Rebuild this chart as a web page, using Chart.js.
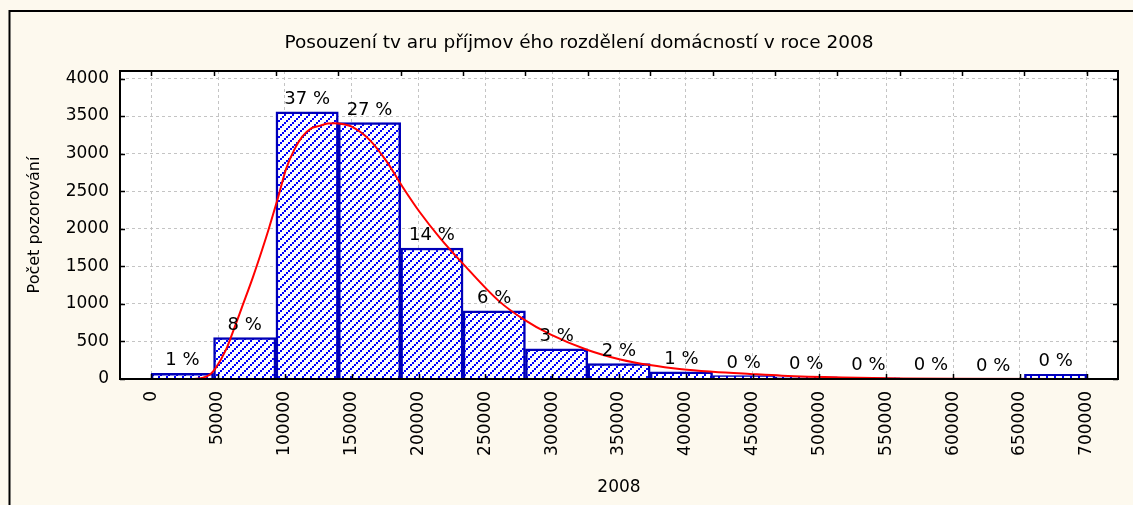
<!DOCTYPE html>
<html>
<head>
<meta charset="utf-8">
<script src="https://cdn.jsdelivr.net/npm/chart.js@4.4.0/dist/chart.umd.min.js"></script>
<style>
html, body { margin: 0; padding: 0; background: #FDF9EE; }
#obal { width: 1133px; height: 505px; position: relative; }
</style>
</head>
<body>
<div id="obal"><canvas id="graf"></canvas></div>
<script>
// histogram - dolni meze trid a cetnosti
const binStarts = [0, 46667, 93333, 140000, 186667, 233333, 280000, 326667, 373333, 420000, 466667, 513333, 560000, 606667, 653333]
const binWidth = 46667
const counts = [76, 550, 3558, 3412, 1744, 909, 403, 204, 97, 45, 28, 15, 8, 3, 62]
const percents = ['1 %', '8 %', '37 %', '27 %', '14 %', '6 %', '3 %', '2 %', '1 %', '0 %', '0 %', '0 %', '0 %', '0 %', '0 %']

// prolozena krivka
const curveX = [32000, 38000, 44000, 48000, 56000, 61000, 68000, 76000, 83000, 88000, 95000, 101000, 107000, 113000, 120000, 126000, 132000, 137000, 144000, 150000, 163000, 176000, 188000, 201000, 216000, 233000, 260000, 279000, 299000, 326000, 351000, 373000, 397000, 420000, 448000, 472000, 517000, 563000, 601000, 700000]
const curveY = [0, 13, 60, 140, 390, 620, 960, 1350, 1720, 2000, 2420, 2800, 3050, 3225, 3340, 3370, 3400, 3405, 3390, 3359, 3190, 2900, 2560, 2220, 1880, 1540, 1040, 790, 590, 390, 260, 185, 130, 97, 67, 44, 20, 7, 3, 0]

const xTicks = [0, 50000, 100000, 150000, 200000, 250000, 300000, 350000, 400000, 450000, 500000, 550000, 600000, 650000, 700000]
const yTicks = [0, 500, 1000, 1500, 2000, 2500, 3000, 3500, 4000]

const nadpis = 'Posouzení tv aru příjmov ého rozdělení domácností v roce 2008'

const pismo = "'DejaVu Sans', Verdana, sans-serif"
Chart.defaults.font.family = pismo
Chart.defaults.color = '#000'

// srafovani sloupcu
let dlazdice = document.createElement('canvas')
dlazdice.width = 8
dlazdice.height = 8
let dc = dlazdice.getContext('2d')
dc.fillStyle = '#fff'
dc.fillRect(0, 0, 8, 8)
dc.fillStyle = '#0000FF'
dc.fillRect(0, 6, 2, 2)
dc.fillRect(2, 4, 2, 2)
dc.fillRect(4, 2, 2, 2)
dc.fillRect(6, 0, 2, 2)
const ctx = document.getElementById('graf').getContext('2d')
const srafa = ctx.createPattern(dlazdice, 'repeat')

let sloupce = binStarts.map((s, i) => ({ x: s + binWidth / 2, y: counts[i] }))
let krivka = curveX.map((x, i) => ({ x: x, y: curveY[i] }))

const ramecek = {
    id: 'ramecek',
    beforeDraw(chart) {
        const c = chart.ctx
        const a = chart.chartArea
        c.save()
        c.fillStyle = '#FDF9EE'
        c.fillRect(0, 0, chart.width, chart.height)
        c.strokeStyle = '#000'
        c.lineWidth = 2
        c.beginPath()
        c.moveTo(9.5, chart.height)
        c.lineTo(9.5, 11)
        c.lineTo(chart.width, 11)
        c.stroke()
        c.fillStyle = '#fff'
        c.fillRect(a.left, a.top, a.right - a.left, a.bottom - a.top)
        c.restore()
    },
    afterDatasetsDraw(chart) {
        const c = chart.ctx
        const meta = chart.getDatasetMeta(0)
        c.save()
        c.fillStyle = '#000'
        c.font = '18px ' + pismo
        c.textAlign = 'center'
        c.textBaseline = 'alphabetic'
        meta.data.forEach((bar, i) => {
            c.fillText(percents[i], bar.x, bar.y - 8)
        })
        c.restore()
    },
    afterDraw(chart) {
        const c = chart.ctx
        const a = chart.chartArea
        const sx = chart.scales.x
        const sy = chart.scales.y
        c.save()
        c.strokeStyle = '#000'
        c.lineWidth = 2
        c.strokeRect(a.left, a.top, a.right - a.left, a.bottom - a.top)
        c.lineWidth = 1.5
        c.beginPath()
        yTicks.forEach(v => {
            let y = Math.round(sy.getPixelForValue(v)) + 0.5
            c.moveTo(a.left, y); c.lineTo(a.left + 5, y)
            c.moveTo(a.right, y); c.lineTo(a.right - 5, y)
        })
        xTicks.forEach(v => {
            let x = Math.round(sx.getPixelForValue(v)) + 0.5
            c.moveTo(x, a.bottom); c.lineTo(x, a.bottom - 5)
        })
        binStarts.concat([binStarts[binStarts.length - 1] + binWidth]).forEach(v => {
            let x = Math.round(sx.getPixelForValue(v)) + 0.5
            c.moveTo(x, a.top); c.lineTo(x, a.top + 5)
        })
        c.stroke()
        c.fillStyle = '#000'
        c.font = '18.5px ' + pismo
        c.textAlign = 'center'
        c.textBaseline = 'middle'
        c.fillText(nadpis, 579, 43)
        c.restore()
    }
}

const graf = new Chart(ctx, {
    type: 'bar',
    data: {
        datasets: [{
            type: 'bar',
            data: sloupce,
            backgroundColor: srafa,
            borderColor: '#0000B8',
            borderWidth: 2.5,
            barPercentage: 1,
            categoryPercentage: 1,
            order: 2
        }, {
            type: 'line',
            data: krivka,
            borderColor: '#FF0000',
            borderWidth: 2,
            pointRadius: 0,
            cubicInterpolationMode: 'monotone',
            fill: false,
            order: 1
        }]
    },
    options: {
        responsive: true,
        maintainAspectRatio: false,
        animation: false,
        devicePixelRatio: 1,
        layout: { padding: { top: 71, right: 15, left: 0, bottom: 0 } },
        plugins: { legend: { display: false }, tooltip: { enabled: false } },
        scales: {
            x: {
                type: 'linear',
                offset: false,
                min: -23333,
                max: 723333,
                afterBuildTicks: s => { s.ticks = xTicks.map(v => ({ value: v })) },
                afterFit: s => { s.height = 126 },
                ticks: { autoSkip: false, minRotation: 90, maxRotation: 90, padding: 12, font: { size: 17 }, callback: v => String(v) },
                grid: { color: '#C4C4C4', lineWidth: 1, drawTicks: false, offset: false },
                border: { display: false, dash: [3, 3] },
                title: { display: true, text: '2008', font: { size: 17 }, padding: { top: 0, bottom: 7 } }
            },
            y: {
                min: 0,
                max: 4100,
                afterBuildTicks: s => { s.ticks = yTicks.map(v => ({ value: v })) },
                afterFit: s => { s.width = 120 },
                ticks: { padding: 11, font: { size: 17 }, callback: v => String(v) },
                grid: { color: '#C4C4C4', lineWidth: 1, drawTicks: false },
                border: { display: false, dash: [3, 3] },
                title: { display: true, text: 'Počet pozorování', font: { size: 16 }, padding: { top: 25, bottom: 0 } }
            }
        }
    },
    plugins: [ramecek]
})
</script>
</body>
</html>
